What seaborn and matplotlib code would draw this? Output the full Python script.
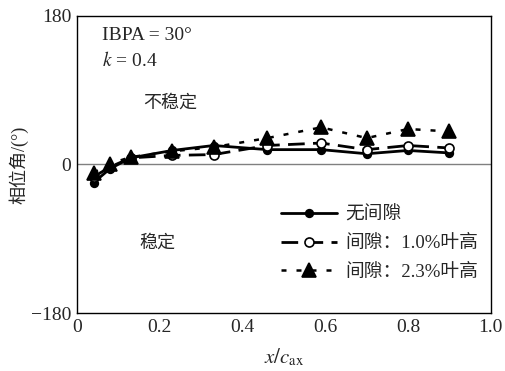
import matplotlib
matplotlib.use("Agg")
import matplotlib.pyplot as plt
import seaborn as sns
import pandas as pd
from matplotlib.ticker import MultipleLocator

sns.set_theme(style="white")
plt.rcParams["font.family"] = ["Liberation Serif", "Noto Sans CJK SC"]
plt.rcParams["mathtext.fontset"] = "stix"
plt.rcParams["axes.unicode_minus"] = True

x_pos = [0.04, 0.08, 0.13, 0.23, 0.33, 0.46, 0.59, 0.70, 0.80, 0.90]
phase_no_gap = [-22, -5, 8, 17, 23, 18, 18, 13, 17, 14]
phase_gap_10 = [-15, -3, 8, 11, 12, 23, 26, 18, 23, 20]
phase_gap_23 = [-10, 1, 9, 16, 21, 32, 45, 32, 43, 40]
labels = ["无间隙", "间隙：1.0%叶高", "间隙：2.3%叶高"]

fig = plt.figure(figsize=(5.05, 3.71), dpi=100)
ax = fig.add_axes([0.1525, 0.1563, 0.8195, 0.8007])

ax.axhline(0, color="#808080", lw=1.0, zorder=1)

styles = [
    dict(y=phase_no_gap, ls="-", marker="o", ms=5.5, mfc="black", lw=2.0),
    dict(y=phase_gap_10, ls=(0, (6, 3)), marker="o", ms=6.5, mfc="white", lw=2.0),
    dict(y=phase_gap_23, ls=(0, (2, 4)), marker="^", ms=10.5, mfc="black", lw=1.8),
]
for lab, st in zip(labels, styles):
    df = pd.DataFrame({"x": x_pos, "y": st["y"]})
    sns.lineplot(data=df, x="x", y="y", ax=ax, color="black", linestyle=st["ls"],
                 lw=st["lw"], marker=st["marker"], markersize=st["ms"],
                 markerfacecolor=st["mfc"], markeredgecolor="black",
                 markeredgewidth=1.2, label=lab, zorder=3)

ax.set_xlim(0, 1.0)
ax.set_ylim(-180, 180)
ax.set_xticks([0, 0.2, 0.4, 0.6, 0.8, 1.0])
ax.set_xticklabels(["0", "0.2", "0.4", "0.6", "0.8", "1.0"])
ax.set_yticks([-180, 0, 180])
ax.set_yticklabels(["\u2212180", "0", "180"])
ax.xaxis.set_minor_locator(MultipleLocator(0.1))
ax.yaxis.set_minor_locator(MultipleLocator(30))
ax.tick_params(which="both", direction="in", labelsize=14, color="black",
               top=False, right=False)
ax.tick_params(which="major", length=5, width=1, pad=4)
ax.tick_params(which="minor", length=5, width=1)
for sp in ax.spines.values():
    sp.set_color("black")
    sp.set_linewidth(1.0)

ax.set_xlabel(r"$x/c_{\mathrm{ax}}$", fontsize=15, labelpad=8)
ax.set_ylabel("相位角/(°)", fontsize=13, labelpad=2)

ax.text(0.06, 0.935, "IBPA = 30°", transform=ax.transAxes, fontsize=14, va="center")
ax.text(0.06, 0.85, r"$k$ = 0.4", transform=ax.transAxes, fontsize=14, va="center")
ax.text(0.16, 0.705, "不稳定", transform=ax.transAxes, fontsize=13, va="center")
ax.text(0.15, 0.235, "稳定", transform=ax.transAxes, fontsize=13, va="center")

leg = ax.legend(loc="lower right", bbox_to_anchor=(1.0, 0.065), frameon=False,
                fontsize=13.5, handlelength=3.0, handletextpad=0.4, labelspacing=0.6,
                borderaxespad=0.3)

fig.savefig("out.png", dpi=100)
